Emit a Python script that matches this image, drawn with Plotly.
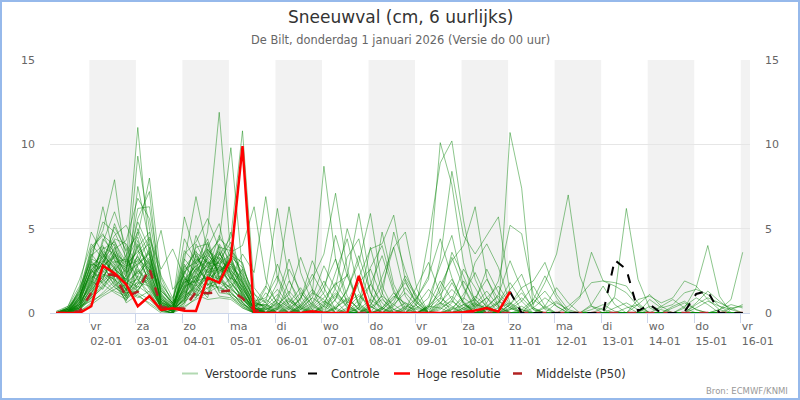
import pandas as pd
import plotly.graph_objects as go

# 6-hourly steps, 01-01 07:00 .. 16-01 01:00 (local time)
times = pd.date_range("2026-01-01 07:00", periods=60, freq="6h")

# ensemble members ("Verstoorde runs"), split in three stretches:
# seg_a = steps 0-17, seg_b = steps 18-45, seg_c = steps 46-59
seg_a = [
    [0, 0.1, 0.8, 2.5, 3.8, 4.2, 3.0, 11.0, 3.5, 0.6, 0.3, 1.8, 2.6, 3.1, 2.0, 1.2, 0.5, 0.2],
    [0, 0.2, 1.2, 3.2, 2.9, 1.6, 2.2, 9.3, 5.0, 1.1, 0.2, 0.8, 3.4, 2.2, 4.1, 3.0, 1.0, 0],
    [0, 0, 0.5, 1.8, 4.4, 3.6, 1.3, 7.5, 4.2, 0.4, 0.1, 2.9, 1.7, 0.9, 3.3, 2.5, 1.8, 0.6],
    [0, 0.1, 0.3, 2.2, 3.0, 5.1, 3.7, 4.6, 8.0, 2.1, 0.5, 1.2, 2.3, 3.8, 2.9, 1.5, 0.8, 0.1],
    [0, 0, 1.0, 2.9, 2.1, 3.4, 2.5, 5.6, 7.2, 1.0, 0, 0.6, 4.1, 2.8, 1.9, 3.9, 2.2, 0.4],
    [0, 0.3, 1.4, 3.6, 4.9, 7.9, 2.8, 3.1, 2.0, 0.3, 0.2, 1.5, 2.0, 1.1, 3.6, 2.4, 1.3, 0],
    [0, 0.1, 0.9, 3.0, 6.3, 3.2, 1.8, 2.4, 3.3, 0.8, 0.4, 2.6, 3.0, 4.4, 2.2, 1.0, 0.3, 0],
    [0.1, 0.4, 1.6, 4.8, 3.5, 2.6, 2.0, 1.5, 2.8, 0.2, 0, 0.9, 1.4, 2.5, 4.6, 3.3, 2.7, 1.1],
    [0, 0, 0.4, 2.0, 3.3, 4.6, 5.2, 3.8, 1.6, 0.5, 0.3, 1.9, 2.8, 3.2, 1.7, 2.8, 1.5, 0.3],
    [0, 0.2, 0.7, 1.5, 2.6, 3.9, 2.1, 4.0, 2.5, 4.9, 1.4, 2.2, 1.1, 2.0, 3.1, 4.2, 2.0, 0.5],
    [0, 0, 0.2, 1.2, 2.2, 2.9, 1.6, 3.5, 4.1, 1.3, 0.6, 5.7, 3.3, 2.4, 2.6, 1.8, 0.9, 0],
    [0, 0.1, 0.6, 2.7, 3.6, 2.0, 1.2, 2.9, 3.7, 0.7, 0.2, 3.1, 6.9, 3.6, 2.3, 3.1, 1.6, 0.2],
    [0, 0, 0.3, 1.0, 1.9, 2.7, 1.0, 2.2, 1.8, 0.3, 0.1, 1.4, 2.5, 4.8, 11.9, 3.4, 1.2, 0],
    [0, 0.2, 1.1, 2.4, 2.8, 3.3, 2.4, 4.3, 2.2, 0.6, 0.4, 2.0, 1.8, 3.5, 4.3, 9.8, 2.5, 0.7],
    [0, 0.1, 0.5, 1.7, 3.1, 2.4, 0.9, 1.9, 3.0, 0.9, 0.3, 0.7, 2.1, 2.9, 3.4, 4.5, 10.8, 1.5],
    [0, 0, 0.2, 0.9, 1.5, 2.2, 1.9, 3.2, 2.6, 1.6, 0.5, 1.0, 1.6, 2.3, 2.0, 3.6, 4.0, 6.3],
    [0, 0.3, 1.3, 3.4, 4.0, 1.8, 0.7, 2.6, 1.4, 0.4, 0.2, 2.4, 3.7, 1.6, 2.8, 2.0, 3.5, 2.4],
    [0, 0.1, 0.8, 2.1, 2.4, 3.0, 3.2, 2.0, 1.2, 0.2, 0, 1.7, 2.9, 3.9, 5.3, 2.2, 1.1, 0.3],
    [0, 0, 0.1, 0.6, 1.2, 1.9, 2.6, 6.2, 6.3, 1.8, 0.7, 1.3, 0.9, 2.7, 3.0, 1.6, 0.6, 0],
    [0, 0.2, 0.9, 3.8, 4.6, 4.0, 1.5, 1.0, 0.6, 0.1, 0, 0.5, 1.9, 3.3, 2.5, 2.9, 1.9, 0.2],
    [0, 0.1, 0.4, 1.4, 2.0, 3.7, 2.9, 3.6, 4.5, 2.6, 3.8, 2.1, 1.0, 1.5, 1.8, 1.3, 0.4, 0],
    [0, 0, 0.6, 2.6, 1.7, 1.2, 0.8, 1.4, 2.1, 0.5, 0.1, 3.5, 4.2, 5.6, 3.8, 2.6, 0.9, 0.1],
    [0, 0.2, 0.3, 1.1, 2.9, 4.4, 4.1, 2.7, 1.5, 0.3, 0.2, 0.8, 1.3, 2.2, 1.4, 2.1, 1.4, 0.5],
    [0, 0, 1.5, 3.1, 2.3, 1.5, 1.1, 1.7, 3.9, 1.2, 0.3, 1.6, 2.6, 1.9, 3.9, 3.7, 2.9, 0.8],
    [0, 0.1, 0.2, 0.8, 1.6, 2.5, 3.4, 4.8, 2.9, 0.6, 0.1, 2.7, 3.6, 3.0, 1.2, 1.1, 0.7, 0],
    [0, 0.4, 2.0, 4.1, 3.2, 2.3, 1.4, 0.9, 1.3, 0.2, 0, 1.1, 2.0, 2.6, 2.7, 4.8, 1.7, 0.2],
    [0, 0, 0.1, 0.5, 1.0, 1.4, 1.7, 2.5, 1.9, 0.4, 0.2, 0.4, 0.8, 1.2, 1.6, 1.0, 0.5, 0],
    [0, 0.1, 0.7, 2.3, 3.9, 3.5, 2.3, 3.9, 4.8, 0.9, 0.4, 2.3, 3.9, 4.1, 2.1, 1.4, 0.8, 0.1],
    [0, 0, 0.3, 1.6, 2.7, 5.3, 3.6, 1.2, 0.8, 0.1, 0, 1.0, 1.5, 2.1, 3.5, 2.7, 2.1, 0.9],
    [0, 0.2, 0.5, 1.9, 1.4, 2.8, 1.3, 5.0, 3.4, 1.4, 0.6, 1.8, 2.2, 1.4, 2.4, 3.2, 1.4, 0.3],
    [0, 0.1, 1.0, 2.8, 3.4, 2.1, 0.6, 1.1, 0.5, 0, 0, 0.3, 0.9, 1.8, 4.0, 2.3, 0.6, 0],
    [0, 0, 0.2, 1.3, 2.5, 3.1, 2.7, 3.3, 2.4, 0.8, 0.3, 2.5, 1.2, 2.6, 1.3, 1.7, 1.0, 0.4],
    [0, 0.3, 1.2, 3.3, 5.4, 4.8, 3.3, 2.1, 1.7, 0.3, 0.1, 1.4, 3.1, 3.4, 2.9, 3.5, 2.4, 0.6],
    [0, 0, 0.4, 0.7, 1.1, 1.6, 0.8, 1.6, 1.1, 0.2, 0, 0.7, 1.1, 0.8, 0.9, 0.8, 0.3, 0],
    [0, 0.1, 0.6, 2.0, 3.0, 3.8, 4.3, 6.8, 5.6, 1.7, 0.8, 3.2, 2.4, 3.7, 3.2, 2.0, 1.2, 0.2],
    [0, 0.2, 0.9, 2.5, 2.0, 1.3, 1.0, 2.8, 3.6, 0.6, 0.2, 1.2, 2.7, 2.0, 2.5, 2.9, 1.8, 0.6],
    [0, 0, 0.3, 1.5, 3.7, 2.9, 2.2, 4.1, 2.7, 1.0, 0.5, 4.4, 3.0, 1.7, 1.9, 1.5, 2.6, 1.2],
    [0, 0.1, 0.8, 3.5, 2.6, 3.6, 1.8, 1.3, 2.3, 0.4, 0.1, 0.6, 1.7, 3.0, 2.8, 2.4, 1.1, 0.1],
    [0, 0, 0.5, 1.7, 4.2, 6.0, 3.9, 2.3, 3.1, 0.7, 0.3, 1.5, 4.6, 2.9, 3.7, 1.9, 0.8, 0.3],
    [0, 0.3, 1.1, 2.2, 1.8, 2.6, 2.0, 3.0, 4.4, 2.2, 0.9, 2.8, 2.0, 4.2, 2.0, 3.4, 3.0, 0.5],
    [0, 0.1, 0.2, 1.0, 2.3, 2.0, 1.4, 1.8, 1.6, 0.3, 0.1, 0.9, 2.4, 1.7, 1.5, 1.2, 0.6, 0],
    [0, 0, 0.7, 2.4, 3.3, 4.3, 2.6, 5.4, 3.8, 1.5, 0.4, 1.9, 1.6, 3.3, 4.4, 3.8, 1.9, 0.4],
    [0.1, 0.2, 1.3, 3.9, 4.7, 3.1, 1.7, 2.0, 1.0, 0.2, 0, 1.3, 3.5, 2.4, 3.1, 2.6, 1.5, 0.2],
    [0, 0.1, 0.4, 1.2, 2.0, 3.5, 3.0, 4.5, 2.0, 0.5, 0.2, 2.1, 1.4, 1.1, 2.2, 1.4, 0.9, 0.3],
    [0, 0, 0.6, 1.8, 3.5, 2.7, 1.1, 2.2, 3.2, 1.1, 0.5, 3.7, 2.9, 3.8, 2.6, 3.0, 2.3, 0.7],
    [0, 0.2, 0.9, 2.9, 2.7, 1.9, 0.9, 1.7, 2.4, 0.7, 0.2, 1.1, 2.2, 2.8, 3.3, 2.3, 1.3, 0.1],
    [0, 0.1, 0.3, 0.9, 1.7, 2.3, 2.0, 3.4, 1.8, 0.4, 0.1, 1.6, 1.9, 2.1, 1.0, 0.9, 0.4, 0],
    [0, 0, 0.8, 2.6, 3.1, 4.1, 2.4, 2.9, 3.5, 0.8, 0.3, 2.4, 3.2, 2.7, 3.6, 2.1, 1.6, 0.5],
    [0, 0.3, 1.0, 3.0, 2.5, 1.7, 1.2, 1.3, 2.6, 0.5, 0.2, 0.8, 1.8, 3.6, 2.4, 3.3, 1.7, 0.2],
    [0, 0.1, 0.5, 1.4, 2.8, 3.4, 2.8, 3.7, 2.9, 1.3, 0.6, 2.0, 2.8, 1.9, 2.7, 1.8, 1.0, 0.3],
]

seg_b = [
    [0.1, 0, 0, 0.4, 1.2, 0.8, 0, 0, 0, 0.3, 1.0, 0.5, 0, 0, 0, 0.6, 1.4, 0.7, 0, 0, 0, 0, 0.2, 0.8, 0.3, 0, 0, 0],
    [0, 0, 0.6, 1.5, 0.4, 0, 0, 0.2, 1.8, 2.6, 0.9, 0, 0, 0, 0.4, 0.3, 0, 0, 0.5, 1.3, 0.4, 0, 0, 0, 0, 0.6, 0.2, 0],
    [0.4, 1.1, 0.3, 0, 0, 0, 0.8, 2.3, 0.6, 0, 0, 0, 0.2, 1.6, 3.0, 1.1, 0, 0, 0, 0, 0, 0.3, 0.9, 0.2, 0, 0, 0, 0],
    [0, 0, 0, 0.2, 0.9, 2.8, 1.4, 0.3, 0, 0, 0, 0.5, 1.2, 0.4, 0, 0, 0, 0.1, 0.9, 2.0, 0.8, 0, 0, 0, 0, 0, 0, 0],
    [0.8, 0.3, 0, 0, 0, 0, 0, 0.6, 1.1, 0.4, 0, 0, 0, 0, 0, 0.8, 3.6, 2.2, 0.5, 0, 0, 0, 0, 0, 0.4, 1.5, 0.6, 0],
    [0, 0.2, 1.9, 0.7, 0, 0, 0, 0, 0, 0.4, 2.1, 3.9, 1.0, 0, 0, 0, 0, 0, 0, 0.2, 0.7, 0.3, 0, 0, 0, 0, 0, 0],
    [0.3, 0, 0, 0, 0.5, 1.6, 3.2, 1.0, 0.2, 0, 0, 0, 0, 0, 0.3, 0.9, 0.4, 0, 0, 0, 0, 0, 0, 0, 0, 0, 0, 0],
    [0.6, 1.4, 0.5, 0, 0, 0, 0, 0, 0, 0.7, 4.8, 1.7, 0.3, 0, 0, 0, 0.2, 1.1, 2.4, 0.9, 0, 0, 0, 0, 0, 0, 0, 0],
    [0, 0, 0, 0.9, 2.3, 1.1, 0, 0, 0, 0, 0, 0.2, 0.6, 0.3, 0, 0, 0, 0, 0, 0, 0.6, 1.8, 0.7, 0, 0, 0, 0, 0],
    [0.5, 0.2, 0, 0, 0, 0.3, 1.0, 0.4, 0, 0, 0, 0, 0, 0.9, 2.2, 4.4, 2.1, 0.5, 0, 0, 0, 0, 0, 0, 0, 0, 0, 0],
    [0, 0.7, 2.6, 1.3, 0.2, 0, 0, 0, 0.3, 1.7, 0.6, 0, 0, 0, 0, 0, 0, 0, 0.4, 0.9, 1.6, 0.5, 0, 0, 0, 0, 0, 0],
    [1.2, 0.4, 0, 0, 0, 0, 0.4, 1.3, 3.4, 1.2, 0.2, 0, 0, 0, 0, 0, 0, 0.5, 0.8, 0.2, 0, 0, 0, 0, 0, 0, 0, 0],
    [0, 0, 0.3, 0.8, 3.1, 1.5, 0.2, 0, 0, 0, 0, 0, 0, 0, 0.5, 1.9, 0.8, 0, 0, 0, 0, 0.5, 1.2, 0.3, 0, 0, 0, 0],
    [0.9, 2.2, 0.8, 0, 0, 0, 0, 0, 0, 0, 0, 0.6, 2.0, 0.9, 0, 0, 0, 0, 0, 0.3, 1.1, 3.1, 1.4, 0.2, 0, 0, 0, 0],
    [0.6, 0, 0, 0, 0, 0.4, 2.4, 4.4, 1.3, 0, 0, 0, 0, 0, 0, 0, 0, 0.3, 0.6, 0.2, 0, 0, 0, 0, 0, 0, 0, 0],
    [2.0, 0.5, 0, 0, 0, 0, 0, 0, 0.5, 3.9, 1.2, 0, 0, 0, 0, 0.4, 1.0, 0.3, 0, 0, 0, 0, 0, 0, 0.3, 0.7, 0.1, 0],
    [6.9, 2.1, 0.4, 0, 0, 0, 0, 0, 0, 0, 0.2, 0.9, 1.8, 0.6, 0, 0, 0, 0, 0, 0, 0, 0.2, 0.4, 0, 0, 0, 0, 0],
    [0.2, 0, 0, 0, 0, 0.6, 1.8, 0.7, 0, 0, 0, 0, 0, 0, 0.4, 1.3, 3.3, 1.5, 0.2, 0, 0, 0, 0, 0, 0, 0, 0, 0],
    [0, 0, 0, 0.5, 1.4, 0.6, 0, 0, 0.2, 0.8, 0.3, 0, 0, 0, 0, 0, 0, 0, 0.7, 2.6, 1.2, 0.4, 0, 0, 0, 0, 0, 0],
    [1.5, 6.2, 2.0, 0.3, 0, 0, 0, 0, 0, 0, 0, 0, 0, 0.5, 1.4, 0.6, 0, 0, 0, 0, 0, 0, 0, 0, 0, 0, 0, 0],
    [0.4, 1.8, 6.3, 2.4, 0.6, 0, 0, 0, 0, 0, 0.3, 1.2, 0.5, 0, 0, 0, 0, 0, 0, 0, 0, 0, 0, 0.6, 1.3, 0.4, 0, 0],
    [0, 0, 0, 0.4, 1.1, 8.7, 3.2, 0.5, 0, 0, 0, 0, 0, 0, 0, 0, 0.6, 1.9, 0.8, 0, 0, 0, 0, 0, 0, 0, 0, 0],
    [0, 0, 0.2, 0.9, 2.0, 3.5, 7.1, 2.6, 0.4, 0, 0, 0, 0, 0, 0, 0.3, 0.7, 0.2, 0, 0, 0, 0, 0, 0, 0, 0, 0, 0],
    [0, 0.3, 0.8, 0.4, 0, 0, 1.5, 5.0, 2.8, 0.6, 0, 0, 0, 0, 0, 0, 0, 0.2, 0.5, 0.3, 0, 0, 0, 0, 0, 0, 0, 0],
    [0, 0, 0, 0, 0.3, 0.9, 1.7, 2.2, 5.9, 1.9, 0.3, 0, 0, 0, 0.4, 1.1, 2.0, 0.6, 0, 0, 0, 0, 0, 0, 0, 0, 0, 0],
    [0.3, 0, 0, 0, 0, 0, 0.2, 1.4, 3.0, 5.9, 1.6, 0.2, 0, 0, 0, 0, 0, 0, 0, 0, 0, 0, 0, 0.8, 2.2, 0.9, 0, 0],
    [0, 0, 0.4, 1.2, 0.5, 0, 0, 0, 0.8, 1.7, 3.4, 1.2, 0.2, 0, 0, 0, 0, 0, 0, 0.4, 1.0, 0.3, 0, 0, 0, 0, 0, 0],
    [0, 0, 0, 0, 0, 0.5, 1.2, 0.6, 2.1, 3.8, 4.1, 5.8, 1.9, 0.4, 0, 0, 0, 0, 0, 0, 0, 0, 0, 0, 0, 0, 0, 0],
    [0.2, 0.6, 0.2, 0, 0, 0, 0, 0, 0, 0, 1.1, 4.8, 2.5, 0.7, 0, 0, 0.3, 0.9, 0.4, 0, 0, 0, 0, 0, 0, 0, 0, 0],
    [0, 0, 0, 0, 0, 0, 0.3, 0.8, 0.3, 0, 0, 0, 0.3, 0.9, 2.0, 10.1, 7.6, 3.0, 0.6, 0, 0, 0, 0, 0, 0, 0, 0, 0],
    [0, 0.2, 0.7, 0.3, 0, 0, 0, 0, 0, 0, 0, 0, 0, 0.6, 4.4, 8.9, 10.2, 5.5, 2.0, 0.5, 0, 0, 0, 0, 0, 0, 0, 0],
    [0, 0, 0, 0, 0.2, 0.7, 0.3, 0, 0, 0, 0, 0.4, 1.5, 0.6, 0, 1.6, 3.1, 4.0, 6.3, 2.1, 0.4, 0, 0, 0, 0, 0, 0, 0],
    [0.4, 0, 0, 0, 0, 0, 0, 0, 0, 0, 0, 0, 0, 0, 0.3, 3.2, 8.4, 4.6, 3.5, 4.6, 5.7, 1.2, 0.2, 0, 0, 0, 0, 0],
    [0, 0, 0, 0, 0, 0, 0, 0, 0, 0.3, 0.8, 0.2, 0, 0, 0, 0, 0, 0, 0, 0.4, 0, 10.7, 7.4, 0.3, 0, 0, 0, 0],
    [0, 0, 0, 0.3, 0.9, 0.4, 0, 0, 0, 0, 0, 0, 0, 0, 0, 0.5, 1.8, 0.6, 0, 0.6, 1.9, 5.2, 4.7, 1.1, 0.2, 0, 0, 0],
    [0, 0.4, 1.3, 0.5, 0, 0, 0, 0, 0, 0, 0, 0, 0, 0, 0, 0, 0, 0.3, 1.0, 0.4, 0, 0.5, 1.5, 1.9, 3.0, 1.1, 0.2, 0.9],
    [0, 0, 0, 0, 0, 0, 0.3, 0.9, 0.2, 0, 0, 0, 0, 0, 0, 0, 0, 0, 0, 0.2, 0.6, 1.4, 2.3, 0.5, 1.8, 3.5, 7.0, 2.2],
    [0.7, 2.9, 1.1, 0, 0, 0, 0, 0, 0, 0, 0, 0, 0.4, 0.2, 0, 0, 0, 0, 0, 0, 0, 0, 0, 0, 0, 0, 0, 0],
    [0, 0, 0, 0, 0, 0.2, 0.8, 3.3, 4.4, 1.2, 0, 0, 0, 0, 0, 0, 0, 0, 0.3, 0.9, 0.3, 0, 0, 0, 0, 0, 0, 0],
    [1.6, 0.6, 0, 0, 0, 0, 0, 0, 0, 0, 0.2, 0.8, 2.2, 1.0, 0, 0, 0, 0, 0, 0, 0, 0, 0, 0, 0, 0, 0, 0],
    [0, 0, 0, 0.2, 0.6, 1.9, 0.7, 0, 0, 0, 0, 0, 0, 0, 0, 0, 0.2, 0.5, 0.2, 0, 0, 0, 0, 0, 0, 0, 0, 0],
    [0.5, 0, 0, 0, 0, 0, 0, 0, 0.3, 2.7, 4.0, 1.4, 0, 0, 0, 0, 0, 0, 0, 0, 0.3, 0.6, 0.2, 0, 0, 0, 0, 0],
    [0, 0.9, 3.2, 1.0, 0, 0, 0, 0, 0, 0, 0, 0, 0, 0, 0, 0.2, 0.8, 2.6, 1.5, 0.3, 0, 0, 0, 0, 0, 0, 0, 0],
    [0, 0, 0, 0, 0.4, 1.2, 4.6, 2.2, 0.5, 0, 0, 0, 0, 0, 0, 0, 0, 0, 0, 0, 0, 0, 0, 0, 0, 0, 0.4, 1.0],
    [0.3, 0.8, 0.3, 0, 0, 0, 0, 0, 0, 0.5, 1.6, 3.9, 4.8, 1.4, 0, 0, 0, 0, 0, 0, 0, 0, 0, 0, 0, 0, 0, 0],
    [0, 0, 0, 0, 0, 0, 0, 0.3, 1.0, 0.4, 0, 0, 0, 0.3, 0.9, 2.8, 4.6, 1.6, 0.3, 0, 0, 0, 0, 0, 0, 0, 0, 0],
    [0.2, 0.5, 1.1, 3.3, 1.4, 0, 0, 0, 0, 0, 0, 0, 0, 0, 0, 0, 0, 0, 0, 0, 0, 0.2, 0.7, 1.6, 0.4, 0, 0, 0],
    [0, 0, 0, 0, 0, 0, 0, 0, 0, 0, 0.3, 1.0, 0.6, 0, 0, 0, 0, 0.8, 3.0, 4.1, 2.7, 0.6, 0, 0, 0, 0, 0, 0],
    [0, 0.3, 0.9, 0.2, 0, 0, 0, 0, 0, 0, 0, 0, 0, 0, 0.2, 0.6, 0.3, 0, 0, 0, 0, 0, 0, 0, 0, 0, 0, 0],
    [0, 0, 0, 0, 0, 0.4, 1.1, 0.5, 0, 0, 0, 0, 0, 0, 0, 0, 0, 0, 0, 0, 0, 0, 0, 0.3, 0.9, 0.4, 0, 0],
]

seg_c = [
    [0, 0, 0, 0, 0, 0, 0, 0, 0, 0, 0, 0, 0, 0],
    [0, 0, 0.3, 0.6, 0.2, 0, 0, 0, 0, 0, 0, 0, 0, 0],
    [0, 0, 0, 0, 0, 0, 0.4, 0.8, 0.3, 0, 0, 0, 0, 0],
    [0.2, 0.5, 0.1, 0, 0, 0, 0, 0, 0, 0, 0, 0, 0, 0],
    [0, 0, 0, 0, 0, 0, 0, 0, 0, 0.3, 0.7, 0.4, 0, 0],
    [0, 0, 0, 0, 0, 0, 0, 0, 0, 0, 0, 0, 0, 0],
    [0, 0, 0, 0, 0.5, 1.1, 0.4, 0, 0, 0, 0, 0, 0, 0],
    [0, 0, 0, 0, 0, 0, 0, 0, 0, 0, 0, 0.2, 0.5, 0.3],
    [0, 0, 0, 0, 0, 0, 0, 0, 0, 0, 0, 0, 0, 0],
    [0, 0.3, 0.9, 0.4, 0, 0, 0, 0, 0, 0, 0, 0, 0, 0],
    [0, 0, 0, 0, 0, 0, 0, 0, 0, 0, 0, 0, 0, 0],
    [0, 0, 0, 0, 0, 0, 0, 0.3, 0.6, 0.2, 0, 0, 0, 0],
    [0, 0, 0, 0, 0, 0, 0, 0, 0, 0, 0, 0, 0, 0],
    [0, 0, 0, 0, 0, 0, 0, 0, 0, 0.6, 1.3, 0.7, 0.2, 0],
    [0, 0, 0, 0, 0, 0, 0, 0, 0, 0, 0, 0, 0, 0],
    [0, 0, 0, 0, 0, 0, 0, 0, 0, 0, 0, 0, 0, 0],
    [0, 0, 0, 0, 0, 0, 0, 0, 0, 0, 0, 0, 0, 0],
    [0, 0, 0, 0, 0, 0.4, 0.2, 0, 0, 0, 0, 0, 0, 0],
    [0, 0, 0, 0, 0, 0, 0, 0, 0, 0, 0, 0, 0, 0],
    [0, 0, 0, 0, 0, 0, 0, 0, 0, 0, 0, 0, 0, 0],
    [0.4, 0.2, 0, 0, 0, 0, 0, 0, 0, 0, 0, 0, 0, 0],
    [0, 0, 0, 0, 0, 0, 0, 0, 0, 0, 0, 0, 0, 0],
    [0, 0, 0, 0, 0, 0, 0, 0, 0, 0, 0, 0, 0, 0],
    [0, 0, 0, 0, 0, 0, 0, 0, 0, 0, 0, 0, 0, 0],
    [0, 0, 0, 0, 0, 0, 0, 0, 0, 0, 0, 0, 0, 0],
    [0, 0, 0, 0, 0, 0, 0, 0, 0, 0, 0, 0, 0.3, 0.4],
    [0, 0, 0, 0, 0, 0, 0, 0, 0, 0, 0, 0, 0, 0],
    [0, 0, 0, 0, 0, 0, 0, 0, 0, 0, 0, 0, 0, 0],
    [0, 0, 0, 0, 0, 0, 0, 0, 0, 0, 0, 0, 0, 0],
    [0, 0, 0, 0, 0, 0, 0, 0, 0, 0, 0, 0, 0, 0],
    [0, 0, 0, 0, 0, 0, 0, 0, 0, 0, 0, 0, 0, 0],
    [0, 0, 0, 0, 0, 0, 0, 0, 0, 0, 0, 0, 0, 0],
    [0, 0, 0, 0, 0, 0, 0, 0, 0, 0, 0, 0, 0, 0],
    [0, 0, 0, 0, 0, 0, 0, 0, 0, 0, 0, 0, 0, 0],
    [0, 0, 0, 0, 0, 0, 0, 0, 0.4, 0.9, 0.5, 0, 0, 0],
    [3.6, 1.9, 1.8, 1.6, 0.6, 0, 0, 0, 0, 0, 0, 0, 0, 0],
    [0.4, 0, 0, 0, 0, 0, 0, 0, 0, 0, 0, 0, 0, 0],
    [0, 0, 1.0, 6.2, 2.0, 0.3, 0, 0, 0, 0, 0, 0, 0, 0],
    [0, 0, 0, 0, 0, 0, 0, 0, 0.3, 1.5, 4.0, 1.0, 0, 0],
    [0, 0, 0, 0, 0, 0, 0, 0, 0, 0, 0, 0.2, 0.8, 3.6],
    [0, 0, 0, 0, 0.8, 1.0, 0.6, 0.9, 1.9, 1.6, 0.8, 0.2, 0, 0],
    [0.5, 1.6, 0.5, 0, 0, 0, 0, 0, 0, 0, 0, 0, 0, 0],
    [0, 0, 0, 0, 0, 0.8, 0.3, 0.5, 1.2, 1.4, 1.1, 0.4, 0.2, 0.5],
    [1.8, 1.9, 1.6, 1.2, 0.4, 0, 0, 0, 0, 0, 0, 0, 0, 0],
    [0, 0, 0, 0.3, 0.5, 0, 0, 0.4, 0.7, 0.2, 0, 0, 0, 0],
    [0, 0, 0, 0, 0, 0, 0, 0, 0, 0, 0, 0, 0, 0],
    [0, 0, 0, 0, 0, 0, 0, 0, 0, 0, 0, 0, 0, 0],
    [0, 0, 0, 0, 0, 0, 0, 0, 0, 0.5, 0.9, 0.6, 0.3, 0],
    [0, 0, 0, 0, 0, 0, 0, 0, 0, 0, 0, 0, 0, 0],
    [0, 0, 0, 0, 0, 0, 0, 0, 0, 0, 0, 0, 0, 0],
]

# high resolution run, steps 0-39
hres = [0, 0, 0, 0.4, 2.8, 2.35, 1.7, 0.4, 1.0, 0.18, 0.28, 0.14, 0.12, 2.1, 1.8, 3.2, 9.9, 0,
        0, 0, 0, 0, 0.1, 0, 0, 0, 2.2, 0, 0,
        0, 0, 0, 0, 0, 0,
        0.05, 0.15, 0.3, 0.08, 1.26]
# control run, steps 39-59
control = [1.26, 0, 0, 0, 0, 0, 0, 0, 0, 3.14, 2.59, 0.12, 0.5, 0, 0, 0.07, 1.13, 1.3, 0, 0, 0]
# median (P50), steps 0-59
p50 = [0, 0, 0.1, 1.2, 2.3, 2.25, 0.97, 1.26, 2.65, 0.34, 0.28, 0.26, 1.26, 1.17, 1.26, 1.34, 0.87, 0.18,
       0, 0, 0, 0, 0, 0, 0, 0, 0, 0, 0, 0, 0, 0, 0, 0, 0, 0, 0, 0, 0, 0, 0, 0,
       0, 0, 0, 0, 0, 0, 0, 0, 0, 0, 0, 0, 0, 0, 0, 0, 0, 0, 0, 0]

day_names = ["ma", "di", "wo", "do", "vr", "za", "zo"]
tick_days = pd.date_range("2026-01-02", "2026-01-16", freq="D")
tick_text = [f"{day_names[d.weekday()]}<br>{d:%d-%m}" for d in tick_days]
shaded_days = ["2026-01-02", "2026-01-04", "2026-01-06", "2026-01-08",
               "2026-01-10", "2026-01-12", "2026-01-14", "2026-01-16"]

x_start = "2026-01-01 03:43"
x_end = "2026-01-16 04:46"

ENS_COLOR = "rgba(0,128,0,0.45)"
FONT = "DejaVu Sans"

fig = go.Figure()

for a, b, c in zip(seg_a, seg_b, seg_c):
    member = a + b + c
    assert len(member) == 60
    fig.add_trace(go.Scatter(
        x=times, y=member, mode="lines",
        line=dict(color=ENS_COLOR, width=1),
        hoverinfo="skip", showlegend=False,
    ))

fig.add_trace(go.Scatter(x=times, y=p50, mode="lines", name="Middelste (P50)",
                         line=dict(color="#b22222", width=2.5, dash="dash"), showlegend=False))
fig.add_trace(go.Scatter(x=times[39:], y=control, mode="lines", name="Controle",
                         line=dict(color="black", width=2, dash="dash"), showlegend=False))
fig.add_trace(go.Scatter(x=times[:40], y=hres, mode="lines", name="Hoge resolutie",
                         line=dict(color="#ff0000", width=2.5), showlegend=False))
# invisible trace so the right-hand axis is drawn
fig.add_trace(go.Scatter(x=times[:1], y=[0], yaxis="y2", mode="markers",
                         marker=dict(opacity=0), hoverinfo="skip", showlegend=False))

shapes = []
for d in shaded_days:
    end = pd.Timestamp(d) + pd.Timedelta(days=1)
    shapes.append(dict(type="rect", xref="x", yref="paper", x0=d, x1=min(end, pd.Timestamp(x_end)),
                       y0=0, y1=1, fillcolor="#f2f2f2", line=dict(width=0), layer="below"))

# pixel helpers for decorations outside the plot area (plot: x 50-750, y 60-313)
def px(x):
    return (x - 50) / 700

def py(y):
    return (313 - y) / 253

legend_items = [
    ("Verstoorde runs", "rgba(0,128,0,0.3)", "solid", 2, 182, 198, 203),
    ("Controle", "black", "dash", 2, 308, 322, 329),
    ("Hoge resolutie", "#ff0000", "solid", 2.5, 394, 410, 415),
    ("Middelste (P50)", "#b22222", "dash", 2.5, 513, 527, 534),
]
annotations = [
    dict(text="Sneeuwval (cm, 6 uurlijks)", x=0.5, y=py(17), xref="paper", yref="paper",
         showarrow=False, font=dict(family=FONT, size=17, color="#333333"), yanchor="middle"),
    dict(text="De Bilt, donderdag 1 januari 2026 (Versie do 00 uur)", x=0.5, y=py(40),
         xref="paper", yref="paper", showarrow=False,
         font=dict(family=FONT, size=11.4, color="#666666"), yanchor="middle"),
    dict(text="Bron: ECMWF/KNMI", x=px(790), y=py(391), xref="paper", yref="paper",
         showarrow=False, xanchor="right", yanchor="middle",
         font=dict(family=FONT, size=8.5, color="#999999")),
]
for label, color, dash, width, x0, x1, xt in legend_items:
    shapes.append(dict(type="line", xref="paper", yref="paper", x0=px(x0), x1=px(x1),
                       y0=py(373.5), y1=py(373.5), line=dict(color=color, width=width, dash=dash)))
    annotations.append(dict(text=label, x=px(xt), y=py(373.5), xref="paper", yref="paper",
                            showarrow=False, xanchor="left", yanchor="middle",
                            font=dict(family=FONT, size=11.5, color="#333333")))

# thin blue frame round the whole chart
shapes.append(dict(type="rect", xref="paper", yref="paper", x0=px(1), x1=px(799),
                   y0=py(399), y1=py(1), line=dict(color="#96b9eb", width=2), layer="above"))

fig.update_layout(
    width=800, height=400, autosize=False,
    margin=dict(l=50, r=50, t=60, b=87),
    plot_bgcolor="white", paper_bgcolor="white",
    font=dict(family=FONT, color="#666666", size=11),
    showlegend=False,
    shapes=shapes,
    annotations=annotations,
    xaxis=dict(
        type="date", range=[x_start, x_end],
        tickvals=tick_days, ticktext=tick_text,
        ticklabelposition="outside right",
        ticks="outside", ticklen=9, tickcolor="#ccd6eb",
        ticklabelstandoff=3,
        showline=True, linecolor="#ccd6eb", linewidth=1,
        showgrid=False, zeroline=False,
        tickfont=dict(family=FONT, size=11, color="#666666"),
    ),
    yaxis=dict(
        range=[0, 15], tickvals=[0, 5, 10, 15],
        showgrid=True, gridcolor="#e6e6e6", zeroline=False,
        ticklabelstandoff=14,
        tickfont=dict(family=FONT, size=11, color="#666666"),
    ),
    yaxis2=dict(
        range=[0, 15], tickvals=[0, 5, 10, 15], overlaying="y", side="right",
        showgrid=False, zeroline=False, ticklabelstandoff=14,
        tickfont=dict(family=FONT, size=11, color="#666666"),
    ),
)

# the page body has a default margin; drop it so the chart sits at the window corner
fig.write_html("out.html", config={"displayModeBar": False},
               post_script="document.body.style.margin='0px';")
